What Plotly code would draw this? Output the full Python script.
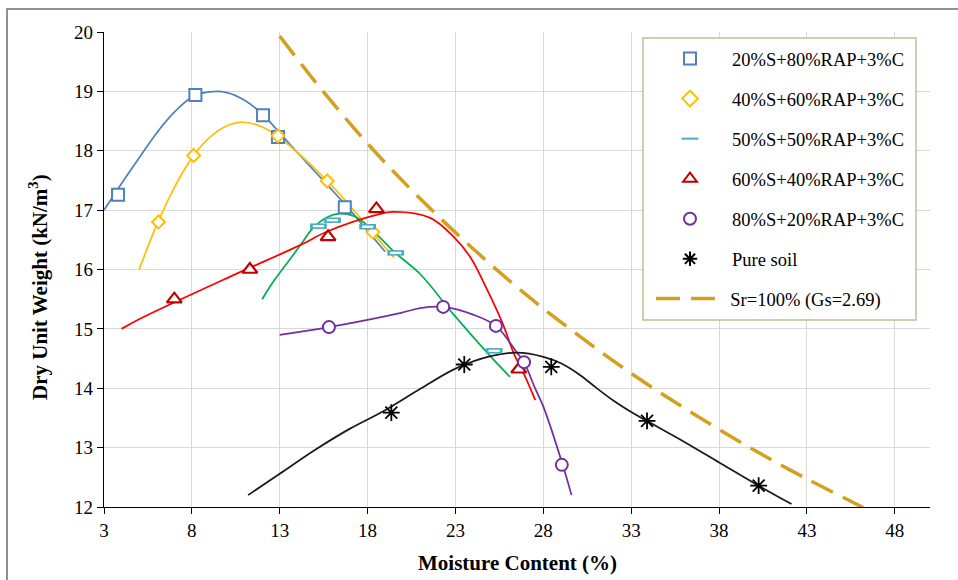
import plotly.graph_objects as go

# ---------------- data ----------------
names = ["20%S+80%RAP+3%C", "40%S+60%RAP+3%C", "50%S+50%RAP+3%C",
         "60%S+40%RAP+3%C", "80%S+20%RAP+3%C", "Pure soil", "Sr=100% (Gs=2.69)"]

# measured points
s20_x = [3.8, 8.2, 12.05, 12.9, 16.7]
s20_y = [17.26, 18.94, 18.6, 18.23, 17.05]
s40_x = [6.1, 8.1, 12.9, 15.7, 18.3]
s40_y = [16.8, 17.92, 18.25, 17.49, 16.63]
s50_x = [15.2, 16.0, 18.0, 19.6, 25.2]
s50_y = [16.73, 16.83, 16.72, 16.28, 14.63]
s60_x = [7.0, 11.3, 15.75, 18.5, 26.6]
s60_y = [15.5, 16.0, 16.55, 17.02, 14.32]
s80_x = [15.8, 22.3, 25.3, 26.9, 29.05]
s80_y = [15.03, 15.37, 15.05, 14.44, 12.71]
soil_x = [19.35, 23.5, 28.45, 33.9, 40.25]
soil_y = [13.59, 14.4, 14.36, 13.45, 12.36]

# fitted curves
c20_x = [3, 4, 5, 6, 7, 8, 9, 10, 11, 12, 13, 14, 15, 16, 17, 18, 19]
c20_y = [17.0, 17.45, 17.88, 18.3, 18.65, 18.9, 18.99, 18.98, 18.85, 18.62, 18.3, 17.97,
         17.65, 17.33, 17.0, 16.65, 16.3]
c40_x = [5, 6, 7, 8, 9, 10, 11, 12, 13, 14, 15, 16, 17, 18, 19, 19.5]
c40_y = [16.0, 16.75, 17.38, 17.88, 18.22, 18.42, 18.48, 18.4, 18.22, 17.97, 17.7, 17.4,
         17.07, 16.72, 16.37, 16.2]
c50_x = [12.0, 12.6, 13.4, 14.2, 14.9, 15.7, 16.4, 17.2, 18.0, 19.5, 21.0, 22.9, 24.8, 26.1]
c50_y = [15.5, 15.78, 16.1, 16.42, 16.7, 16.88, 16.94, 16.9, 16.74, 16.3, 15.92, 15.24, 14.6, 14.19]
c60_x = [4.0, 5.05, 10.18, 14.16, 15.7, 18.5, 19.46, 21.56, 22.9, 23.84, 24.8, 25.67, 26.3, 26.97, 27.54]
c60_y = [15.0, 15.17, 15.88, 16.41, 16.64, 16.92, 16.97, 16.87, 16.55, 16.21, 15.66, 15.1, 14.6, 14.19, 13.8]
c80_x = [13.0, 15.8, 19.9, 21.0, 22.3, 24.0, 25.3, 26.5, 26.9, 27.5, 28.0, 29.1, 29.6]
c80_y = [14.9, 15.03, 15.27, 15.35, 15.37, 15.24, 15.05, 14.6, 14.44, 14.02, 13.69, 12.71, 12.2]
csoil_x = [11.2, 13, 15, 17, 19, 21, 23, 25, 26.5, 28, 29, 30, 31, 32, 33, 34, 36, 38, 40, 42.12]
csoil_y = [12.2, 12.56, 12.96, 13.32, 13.63, 13.99, 14.33, 14.54, 14.6, 14.53, 14.42, 14.24,
           14.01, 13.79, 13.6, 13.43, 13.1, 12.75, 12.4, 12.05]
sat_x = [13, 15, 18, 21, 24, 27, 30, 33, 36, 39, 42, 46.2]
sat_y = [19.93, 19.17, 18.12, 17.19, 16.35, 15.58, 14.89, 14.25, 13.67, 13.13, 12.63, 11.99]

x_ticks = [3, 8, 13, 18, 23, 28, 33, 38, 43, 48]
y_ticks = [12, 13, 14, 15, 16, 17, 18, 19, 20]

# ---------------- figure ----------------
FONT = "Liberation Serif"
fig = go.Figure()

def curve(x, y, color):
    fig.add_trace(go.Scatter(x=x, y=y, mode="lines", showlegend=False, hoverinfo="skip",
                             line=dict(color=color, width=1.75, shape="spline", smoothing=1.0)))

curve(c20_x, c20_y, "#4F81BD")
curve(c40_x, c40_y, "#FFC000")
curve(c50_x, c50_y, "#00B050")
curve(c60_x, c60_y, "#FF0000")
curve(c80_x, c80_y, "#7030A0")
curve(csoil_x, csoil_y, "#1a1a1a")

def pts(x, y, name, symbol, color, size, lw=2, fill="white"):
    fig.add_trace(go.Scatter(x=x, y=y, mode="markers", name=name, legendgroup=name,
                             marker=dict(symbol=symbol, size=size, color=fill,
                                         line=dict(color=color, width=lw))))

pts(s20_x, s20_y, names[0], "square", "#4F81BD", 12)
pts(s40_x, s40_y, names[1], "diamond", "#FFC000", 10)
pts(s50_x, s50_y, names[2], "line-ew", "#4BACC6", 12, lw=5.5, fill="#4BACC6")
fig.add_trace(go.Scatter(x=s50_x, y=s50_y, mode="markers", showlegend=False, hoverinfo="skip",
                         legendgroup=names[2],
                         marker=dict(symbol="line-ew", size=8, color="white",
                                     line=dict(color="white", width=2.2))))
pts(s60_x, s60_y, names[3], "triangle-up", "#C00000", 13, lw=2.2)
pts(s80_x, s80_y, names[4], "circle", "#7030A0", 12)
pts(soil_x, soil_y, names[5], "asterisk-open", "black", 14, lw=1.8, fill="black")

fig.add_trace(go.Scatter(x=sat_x, y=sat_y, mode="lines", name="\u00a0\u00a0" + names[6],
                         legend="legend2",
                         line=dict(color="#D4A020", width=3.5, dash="24px,11px", shape="spline")))

axis_common = dict(showgrid=True, gridcolor="#D9D9D9", gridwidth=1, zeroline=False,
                   showline=True, linecolor="black", linewidth=1.3, ticks="outside",
                   ticklen=6, tickcolor="black",
                   tickfont=dict(family=FONT, size=19, color="black"))

fig.update_xaxes(range=[3, 50], tickmode="array", tickvals=x_ticks,
                 ticktext=[str(v) for v in x_ticks], **axis_common)
fig.update_yaxes(range=[12, 20], tickmode="array", tickvals=y_ticks,
                 ticktext=[str(v) for v in y_ticks], **axis_common)

L, R, T, B = 104, 28, 32, 73
PW, PH = 958 - L - R, 580 - T - B

def px(xp):
    return (xp - L) / PW

def py(yp):
    return (580 - B - yp) / PH

legend_font = dict(family=FONT, size=18.5, color="black")

fig.update_layout(
    width=958, height=580,
    margin=dict(l=L, r=R, t=T, b=B, autoexpand=False),
    paper_bgcolor="white", plot_bgcolor="white",
    font=dict(family=FONT, color="black"),
    legend=dict(x=px(648), y=py(40), xanchor="left", yanchor="top",
                bgcolor="rgba(0,0,0,0)", borderwidth=0, font=legend_font,
                itemwidth=74, itemsizing="constant",
                traceorder="grouped", tracegroupgap=13),
    legend2=dict(x=px(651), y=py(280), xanchor="left", yanchor="top",
                 bgcolor="rgba(0,0,0,0)", borderwidth=0, font=legend_font,
                 itemwidth=60),
    shapes=[
        dict(type="rect", xref="paper", yref="paper", x0=px(7), x1=px(965),
             y0=py(590), y1=py(9), line=dict(color="#6e6e6e", width=1.5),
             fillcolor="rgba(0,0,0,0)", layer="below"),
        dict(type="rect", xref="paper", yref="paper", x0=px(643), x1=px(916),
             y0=py(320), y1=py(38), line=dict(color="#C4BD97", width=1.5),
             fillcolor="white", layer="above"),
    ],
    annotations=[
        dict(text="<b>Dry Unit Weight (kN/m<sup>3</sup>)</b>", xref="paper", yref="paper",
             x=px(38), y=py(287), textangle=-90, showarrow=False,
             xanchor="center", yanchor="middle",
             font=dict(family=FONT, size=21, color="black")),
        dict(text="<b>Moisture Content (%)</b>", xref="paper", yref="paper",
             x=0.5, y=py(563), showarrow=False, xanchor="center", yanchor="middle",
             font=dict(family=FONT, size=21, color="black")),
    ],
)

fig.write_html("out.html")
